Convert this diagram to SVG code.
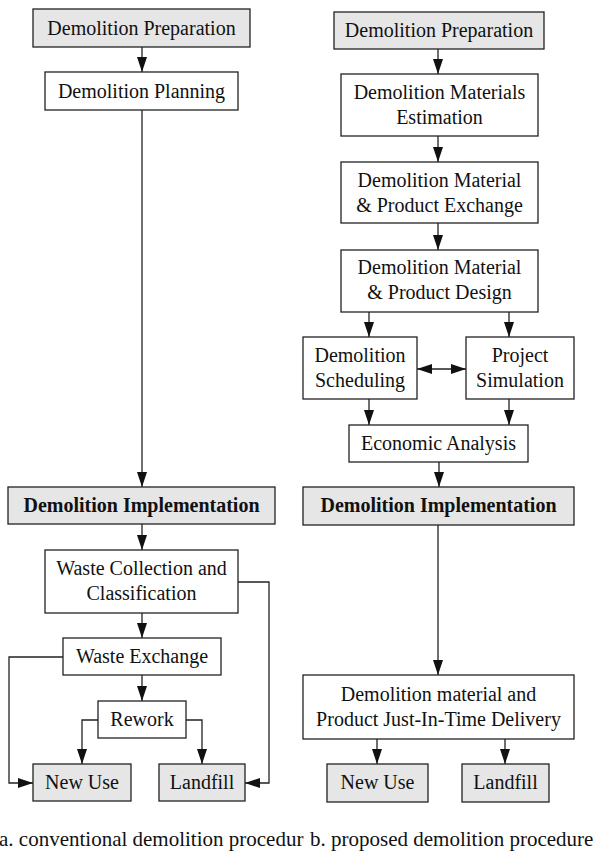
<svg xmlns="http://www.w3.org/2000/svg" width="595" height="852" viewBox="0 0 595 852">
<style>
.b{fill:#fff;stroke:#222;stroke-width:1.3}
.g{fill:#e6e6e6;stroke:#222;stroke-width:1.3}
text{font-family:"Liberation Serif","Times New Roman",serif;font-size:20px;fill:#111;text-anchor:middle}
.bold{font-weight:bold}
.cap{font-size:21px;text-anchor:start}
.c path,.c line,.c polyline{fill:none;stroke:#222;stroke-width:1.3}
</style>
<defs>
<marker id="ah" markerUnits="userSpaceOnUse" markerWidth="16" markerHeight="12" refX="15" refY="6" orient="auto-start-reverse">
<path d="M0,1 L15,6 L0,11 Z" fill="#111"/>
</marker>
</defs>
<rect width="595" height="852" fill="#fff"/>
<g class="c" id="connectors">
<line x1="142" y1="47" x2="142" y2="72" marker-end="url(#ah)"/>
<line x1="142" y1="110" x2="142" y2="487" marker-end="url(#ah)"/>
<line x1="142" y1="524" x2="142" y2="550" marker-end="url(#ah)"/>
<line x1="142" y1="613" x2="142" y2="638" marker-end="url(#ah)"/>
<line x1="142" y1="675" x2="142" y2="701" marker-end="url(#ah)"/>
<polyline points="98,720 82,720 82,764" marker-end="url(#ah)"/>
<polyline points="186,720 202,720 202,764" marker-end="url(#ah)"/>
<polyline points="63,657 9,657 9,783 33,783" marker-end="url(#ah)"/>
<polyline points="238,582 269,582 269,783 245,783" marker-end="url(#ah)"/>
<line x1="438" y1="49" x2="438" y2="74" marker-end="url(#ah)"/>
<line x1="438" y1="136" x2="438" y2="162" marker-end="url(#ah)"/>
<line x1="438" y1="223" x2="438" y2="250" marker-end="url(#ah)"/>
<line x1="369" y1="312" x2="369" y2="337" marker-end="url(#ah)"/>
<line x1="509" y1="312" x2="509" y2="337" marker-end="url(#ah)"/>
<line x1="417" y1="369" x2="466" y2="369" marker-start="url(#ah)" marker-end="url(#ah)"/>
<line x1="369" y1="399" x2="369" y2="425" marker-end="url(#ah)"/>
<line x1="509" y1="399" x2="509" y2="425" marker-end="url(#ah)"/>
<line x1="439" y1="462" x2="439" y2="487" marker-end="url(#ah)"/>
<line x1="438" y1="525" x2="438" y2="675" marker-end="url(#ah)"/>
<line x1="377" y1="739" x2="377" y2="764" marker-end="url(#ah)"/>
<line x1="505" y1="739" x2="505" y2="764" marker-end="url(#ah)"/>
</g>
<g id="a-prep"><rect class="g" x="33" y="9" width="217" height="38"/><text x="141.5" y="35">Demolition Preparation</text></g>
<g id="a-plan"><rect class="b" x="45" y="72" width="193" height="38"/><text x="141.5" y="98">Demolition Planning</text></g>
<g id="a-impl"><rect class="g" x="8" y="487" width="267" height="37"/><text class="bold" x="141.5" y="512">Demolition Implementation</text></g>
<g id="a-collect"><rect class="b" x="45" y="550" width="193" height="63"/><text x="141.5" y="575">Waste Collection and</text><text x="141.5" y="600">Classification</text></g>
<g id="a-exch"><rect class="b" x="63" y="638" width="158" height="37"/><text x="142" y="663">Waste Exchange</text></g>
<g id="a-rework"><rect class="b" x="98" y="701" width="88" height="37"/><text x="142" y="726">Rework</text></g>
<g id="a-newuse"><rect class="g" x="33" y="764" width="98" height="37"/><text x="82" y="789">New Use</text></g>
<g id="a-landfill"><rect class="g" x="159" y="764" width="86" height="37"/><text x="202" y="789">Landfill</text></g>
<g id="b-prep"><rect class="g" x="334" y="12" width="210" height="37"/><text x="439" y="37">Demolition Preparation</text></g>
<g id="b-est"><rect class="b" x="341" y="74" width="197" height="62"/><text x="439.5" y="99">Demolition Materials</text><text x="439.5" y="124">Estimation</text></g>
<g id="b-exch"><rect class="b" x="341" y="162" width="197" height="61"/><text x="439.5" y="187">Demolition Material</text><text x="439.5" y="212">&amp; Product Exchange</text></g>
<g id="b-design"><rect class="b" x="341" y="250" width="197" height="62"/><text x="439.5" y="274">Demolition Material</text><text x="439.5" y="299">&amp; Product Design</text></g>
<g id="b-sched"><rect class="b" x="303" y="337" width="114" height="62"/><text x="360" y="362">Demolition</text><text x="360" y="387">Scheduling</text></g>
<g id="b-sim"><rect class="b" x="466" y="337" width="108" height="62"/><text x="520" y="362">Project</text><text x="520" y="387">Simulation</text></g>
<g id="b-econ"><rect class="b" x="349" y="425" width="179" height="37"/><text x="438.5" y="450">Economic Analysis</text></g>
<g id="b-impl"><rect class="g" x="303" y="487" width="271" height="38"/><text class="bold" x="438.5" y="512">Demolition Implementation</text></g>
<g id="b-jit"><rect class="b" x="303" y="675" width="271" height="64"/><text x="438.5" y="701">Demolition material and</text><text x="438.5" y="726">Product Just-In-Time Delivery</text></g>
<g id="b-newuse"><rect class="g" x="327" y="764" width="101" height="38"/><text x="377.5" y="789">New Use</text></g>
<g id="b-landfill"><rect class="g" x="462" y="764" width="87" height="38"/><text x="505.5" y="789">Landfill</text></g>
<text class="cap" x="-1" y="846">a. conventional demolition procedur</text>
<text class="cap" x="310" y="846">b. proposed demolition procedure</text>
</svg>
